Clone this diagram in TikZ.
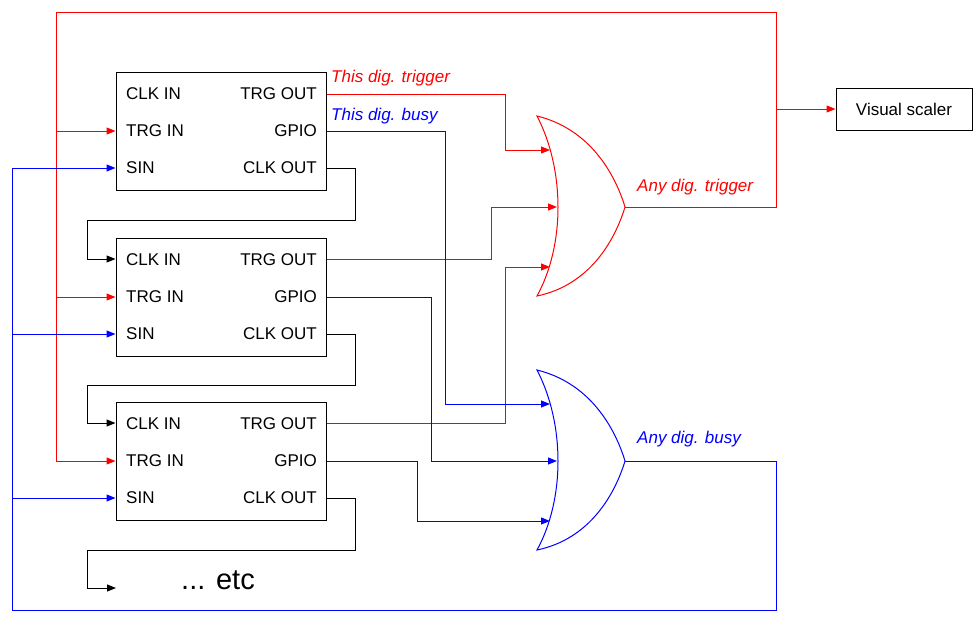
\documentclass[tikz,border=0pt]{standalone}
\usepackage{fontspec}
\setmainfont{Liberation Sans}
\usetikzlibrary{positioning,arrows.meta}

\begin{document}
\begin{tikzpicture}[
        x=1pt, y=-1pt,
        every node/.style={font=\fontsize{17}{20}\selectfont, inner sep=0pt},
        blk/.style={draw, line width=1pt, minimum width=210pt, minimum height=118pt},
        wire/.style={line width=1pt, -{Triangle[length=9pt,width=7pt]}},
        lbl/.style={font=\fontsize{17}{20}\selectfont\itshape, anchor=west},
        gate/.style={line width=1pt}
    ]
    \useasboundingbox (0,0) rectangle (974,624);

    % digitizer blocks
    \foreach \n/\y in {1/131, 2/297, 3/461} {
        \node[blk] (b\n) at (221,\y) {};
        \node[anchor=west] at (126,\y-37) {CLK IN};
        \node[anchor=west] at (126,\y) {TRG IN};
        \node[anchor=west] at (126,\y+37) {SIN};
        \node[anchor=east] at (317,\y-37) {TRG OUT};
        \node[anchor=east] at (317,\y) {GPIO};
        \node[anchor=east] at (317,\y+37) {CLK OUT};
    }

    \node[draw, line width=1pt, minimum width=136pt, minimum height=42pt] (vs) at (904,109) {Visual scaler};
    \node[font=\fontsize{29}{34}\selectfont] (etc) at (218,580) {... etc};

    % or gates
    \draw[gate, red] (537,116) .. controls (565,170) and (565,245) .. (537,296)
        .. controls (590,285) and (615,240) .. (625,207)
        .. controls (615,174) and (590,129) .. cycle;
    \draw[gate, blue] (537,370) .. controls (565,424) and (565,499) .. (537,550)
        .. controls (590,539) and (615,494) .. (625,461)
        .. controls (615,428) and (590,383) .. cycle;
    \coordinate (or1) at (625,207);
    \coordinate (or2) at (625,461);

    % clock chain
    \draw[wire] (b1.east |- 0,168) -- (355,168) -- (355,220) -- (87,220) -- (87,259) -- (b2.west |- 0,259);
    \draw[wire] (b2.east |- 0,334) -- (355,334) -- (355,385) -- (87,385) -- (87,423) -- (b3.west |- 0,423);
    \draw[wire] (b3.east |- 0,498) -- (355,498) -- (355,550) -- (87,550) -- (87,588) -- (116,588);

    % trigger
    \draw[wire, red] (b1.east |- 0,94) -- (505,94) -- (505,150) -- (550,150);
    \draw[wire, red] (b2.east |- 0,259) -- (491,259) -- (491,207) -- (557,207);
    \draw[wire, red] (b3.east |- 0,423) -- (505,423) -- (505,267) -- (550,267);
    \draw[wire, red] (or1) -- (776,207) -- (776,12) -- (56,12) -- (56,461) -- (b3.west |- 0,461);
    \draw[wire, red] (56,131) -- (b1.west |- 0,131);
    \draw[wire, red] (56,297) -- (b2.west |- 0,297);
    \draw[wire, red] (776,109) -- (vs.west);

    % busy
    \draw[wire, blue] (b1.east |- 0,131) -- (445,131) -- (445,404) -- (550,404);
    \draw[wire, blue] (b2.east |- 0,297) -- (431,297) -- (431,461) -- (557,461);
    \draw[wire, blue] (b3.east |- 0,461) -- (417,461) -- (417,521) -- (550,521);
    \draw[wire, blue] (or2) -- (776,461) -- (776,610) -- (12,610) -- (12,168) -- (b1.west |- 0,168);
    \draw[wire, blue] (12,334) -- (b2.west |- 0,334);
    \draw[wire, blue] (12,498) -- (b3.west |- 0,498);

    \node[lbl, red] at (331,78) {This dig. trigger};
    \node[lbl, blue] at (331,116) {This dig. busy};
    \node[lbl, red] at (637,187) {Any dig. trigger};
    \node[lbl, blue] at (637,439) {Any dig. busy};
\end{tikzpicture}
\end{document}
